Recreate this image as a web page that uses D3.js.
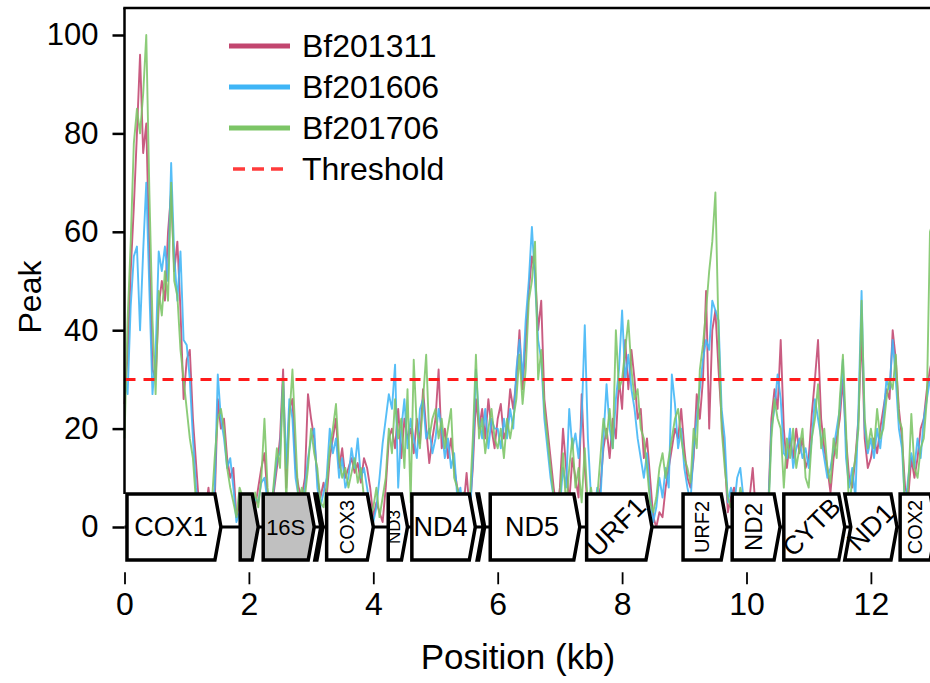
<!DOCTYPE html>
<html>
<head>
<meta charset="utf-8">
<script src="https://cdn.jsdelivr.net/npm/d3@7"></script>
<style>
  body { margin: 0; background: #fff; }
  svg { display: block; font-family: "Liberation Sans", Arial, Helvetica, sans-serif; }
</style>
</head>
<body>
<script>
const [width, height] = [930, 683];

// coverage peaks, one sample every 0.05 kb starting at 0 kb
const stepKb = 0.05;
const bf201311 = [
  25, 35, 52, 65, 80, 96, 76, 82, 55, 32, 30, 45, 50, 46, 60, 68, 52, 58, 44, 26,
  34, 36, 22, 13, 4, 6, 3, 8, 2, 5, 26, 20, 22, 14, 10, 12, 2, 5, 3, 6,
  3, 6, 4, 8, 12, 15, 6, 4, 7, 12, 18, 32, 8, 24, 26, 12, 8, 6, 10, 27,
  22, 18, 10, 6, 9, 6, 14, 18, 22, 12, 16, 10, 12, 14, 11, 13, 9, 14, 12, 8,
  2, 5, 3, 1, 8, 18, 20, 16, 24, 14, 22, 18, 20, 15, 22, 17, 28, 20, 13, 18,
  22, 32, 16, 20, 14, 18, 12, 8, 6, 4, 11, 3, 12, 26, 20, 24, 18, 26, 20, 16,
  22, 25, 18, 20, 28, 24, 30, 40, 28, 38, 48, 55, 52, 40, 46, 26, 20, 14, 8, 3,
  8, 20, 12, 5, 14, 10, 6, 27, 12, 3, 1, 6, 3, 8, 16, 20, 14, 22, 18, 30,
  24, 38, 28, 36, 30, 22, 24, 14, 18, 10, 2, 0, 3, 2, 8, 12, 16, 20, 18, 24,
  16, 10, 8, 14, 27, 22, 30, 48, 20, 40, 44, 32, 22, 14, 3, 6, 8, 4, 6, 3,
  4, 6, 12, 3, 2, 5, 3, 4, 22, 28, 24, 38, 20, 12, 18, 14, 20, 15, 18, 12,
  14, 23, 30, 38, 22, 16, 12, 7, 14, 18, 22, 30, 18, 10, 8, 14, 22, 40, 18, 12,
  14, 18, 15, 20, 24, 28, 26, 40, 34, 24, 18, 8, 6, 14, 10, 14, 20, 22, 28, 32, 35
];
const bf201606 = [
  30, 27, 45, 55, 57, 40, 56, 70, 48, 27, 35, 56, 52, 57, 50, 74, 55, 46, 56, 38,
  37, 30, 18, 8, 3, 5, 2, 6, 4, 8, 31, 22, 18, 12, 14, 8, 1, 3, 6, 2,
  4, 2, 6, 5, 9, 10, 5, 3, 8, 14, 15, 30, 12, 26, 22, 10, 6, 4, 8, 14,
  18, 20, 8, 4, 7, 10, 20, 15, 18, 10, 14, 8, 10, 16, 12, 18, 10, 12, 8, 4,
  1, 4, 10, 17, 22, 27, 24, 33, 8, 20, 26, 16, 22, 18, 14, 24, 26, 18, 20, 15,
  18, 24, 20, 14, 18, 12, 15, 6, 8, 2, 5, 1, 14, 32, 22, 18, 24, 16, 22, 20,
  20, 16, 22, 18, 24, 20, 32, 38, 30, 42, 50, 61, 50, 38, 34, 22, 16, 10, 6, 2,
  4, 12, 8, 24, 16, 19, 14, 22, 41, 18, 6, 2, 8, 5, 18, 29, 20, 16, 26, 32,
  44, 30, 35, 28, 24, 18, 14, 10, 15, 6, 1, 4, 10, 6, 12, 8, 31, 25, 16, 20,
  12, 8, 5, 16, 22, 28, 34, 38, 36, 46, 44, 42, 24, 18, 5, 8, 4, 10, 12, 6,
  3, 5, 2, 4, 6, 2, 5, 3, 20, 24, 31, 26, 15, 14, 20, 12, 16, 18, 14, 16,
  12, 18, 26, 22, 18, 14, 10, 12, 16, 20, 24, 34, 14, 8, 12, 6, 24, 48, 20, 15,
  18, 14, 20, 16, 22, 30, 28, 38, 30, 20, 16, 4, 10, 15, 12, 18, 14, 22, 26, 30, 32
];
const bf201706 = [
  18, 42, 58, 78, 85, 80, 88, 100, 68, 42, 27, 48, 43, 52, 46, 70, 50, 47, 36, 30,
  24, 18, 14, 5, 3, 2, 6, 3, 4, 14, 22, 24, 20, 12, 8, 5, 2, 8, 6, 4,
  5, 3, 7, 4, 10, 22, 8, 2, 9, 16, 12, 30, 5, 22, 32, 18, 4, 8, 6, 12,
  20, 15, 12, 5, 4, 8, 16, 20, 25, 14, 10, 12, 8, 11, 14, 9, 12, 6, 3, 2,
  4, 8, 2, 6, 10, 20, 15, 26, 18, 22, 12, 28, 5, 34, 20, 16, 26, 35, 18, 22,
  24, 18, 22, 16, 20, 24, 10, 8, 4, 7, 2, 5, 18, 35, 18, 22, 15, 20, 24, 18,
  16, 20, 14, 22, 18, 22, 26, 35, 25, 32, 46, 50, 58, 30, 36, 24, 18, 12, 6, 4,
  6, 15, 4, 12, 18, 8, 12, 5, 16, 4, 8, 3, 6, 14, 22, 18, 24, 16, 40, 28,
  30, 36, 42, 32, 26, 28, 20, 18, 12, 5, 3, 6, 12, 15, 10, 14, 18, 22, 24, 18,
  14, 12, 9, 20, 16, 32, 37, 44, 52, 58, 68, 40, 20, 12, 6, 4, 7, 3, 8, 5,
  5, 3, 6, 2, 4, 3, 6, 2, 18, 26, 22, 20, 8, 18, 14, 20, 12, 16, 20, 10,
  8, 18, 22, 29, 16, 20, 12, 9, 18, 14, 26, 35, 20, 3, 10, 14, 20, 46, 22, 16,
  20, 16, 24, 18, 20, 26, 30, 28, 35, 22, 20, 2, 8, 23, 12, 10, 16, 18, 26, 60, 62
];
const seriesNames = ['Bf201311', 'Bf201606', 'Bf201706'];
const seriesColors = ['#c2466f', '#3fb5f6', '#7cc566'];
const threshold = 30;

const yTicks = [0, 20, 40, 60, 80, 100];
const xTicks = [0, 2, 4, 6, 8, 10, 12];

// gene map (kb)
const geneNames = ['COX1', '', '16S', '', 'COX3', 'ND3', 'ND4', '', 'ND5', 'URF1', 'URF2', 'ND2', 'CYTB', 'ND1', 'COX2'];
const geneStart = [0.04, 1.86, 2.23, 3.06, 3.25, 4.24, 4.62, 5.67, 5.88, 7.43, 8.98, 9.77, 10.60, 11.58, 12.47];
const geneEnd   = [1.55, 2.15, 3.05, 3.19, 4.00, 4.55, 5.64, 5.79, 7.32, 8.48, 9.69, 10.54, 11.58, 12.42, 13.05];
const geneKind  = ['cds', 'rrna', 'rrna', 'trna', 'cds', 'cds', 'cds', 'trna', 'cds', 'cds', 'cds', 'cds', 'cds', 'notch', 'cds'];

// [rotation, font size] per gene label
const labelStyle = {
  COX1: [0, 27], '16S': [0, 22], COX3: [-90, 20], ND3: [-90, 17], ND4: [0, 27], ND5: [0, 27],
  URF1: [-45, 27], URF2: [-90, 20], ND2: [-90, 24], CYTB: [-45, 26], ND1: [-45, 27], COX2: [-90, 20]
};

const x = d3.scaleLinear().domain([0, 13]).range([124.5, 933.1]);
const y = d3.scaleLinear().domain([0, 100]).range([527, 35]);

const svg = d3.select('body').append('svg')
  .attr('width', width)
  .attr('height', height);

// traces
const line = d3.line()
  .x((d, i) => x(i * stepKb))
  .y(d => y(d));

const traces = svg.append('g').attr('class', 'traces');
[bf201311, bf201606, bf201706].forEach((vals, k) => {
  traces.append('path')
    .attr('d', line(vals))
    .attr('fill', 'none')
    .attr('stroke', seriesColors[k])
    .attr('stroke-width', 1.9)
    .attr('stroke-opacity', 0.88)
    .attr('stroke-linejoin', 'round');
});

// threshold
svg.append('line')
  .attr('x1', x(0)).attr('x2', width)
  .attr('y1', y(threshold)).attr('y2', y(threshold))
  .attr('stroke', '#ff1a1a')
  .attr('stroke-width', 3)
  .attr('stroke-dasharray', '11,8');

// gene track
const boxTop = y(6.7), boxBot = y(-6.7), boxMid = y(0), tip = 6;
const track = svg.append('g').attr('class', 'genes');
track.append('line')
  .attr('x1', x(0)).attr('x2', width)
  .attr('y1', boxMid).attr('y2', boxMid)
  .attr('stroke', '#000').attr('stroke-width', 3);

geneNames.forEach((name, i) => {
  const x0 = x(geneStart[i]), x1 = x(geneEnd[i]);
  const pts = [[x0, boxTop], [x1 - tip, boxTop], [x1, boxMid], [x1 - tip, boxBot], [x0, boxBot]];
  if (geneKind[i] === 'trna' || geneKind[i] === 'notch') pts.push([x0 + tip, boxMid]);
  track.append('polygon')
    .attr('points', pts.map(p => p.join(',')).join(' '))
    .attr('fill', geneKind[i] === 'rrna' ? '#c0c0c0' : '#fff')
    .attr('stroke', '#000')
    .attr('stroke-width', 3.5)
    .attr('stroke-linejoin', 'miter');
  if (name) {
    const [rot, fs] = labelStyle[name];
    const cx = (x0 + x1 - tip) / 2 + (geneKind[i] === 'notch' ? tip / 2 : 0);
    track.append('text')
      .attr('transform', `translate(${cx},${boxMid}) rotate(${rot})`)
      .attr('text-anchor', 'middle')
      .attr('dominant-baseline', 'central')
      .attr('font-size', fs)
      .text(name);
  }
});

// spines
svg.append('line')
  .attr('x1', x(0)).attr('x2', x(0))
  .attr('y1', 8).attr('y2', boxTop)
  .attr('stroke', '#000').attr('stroke-width', 2.5);
svg.append('line')
  .attr('x1', x(0) - 1.25).attr('x2', width)
  .attr('y1', 8).attr('y2', 8)
  .attr('stroke', '#000').attr('stroke-width', 2.5);

// y axis
const yAxis = svg.append('g')
  .attr('transform', `translate(${x(0)},0)`)
  .call(d3.axisLeft(y).tickValues(yTicks).tickSize(12).tickPadding(14));
yAxis.select('.domain').remove();
yAxis.selectAll('line').attr('stroke-width', 2.5);
yAxis.selectAll('text').attr('font-size', 31).attr('font-family', null).attr('fill', '#000');

// x axis (offset below the gene track)
const xAxis = svg.append('g')
  .attr('transform', `translate(0,${y(-9.2)})`)
  .call(d3.axisBottom(x).tickValues(xTicks).tickSize(12).tickPadding(8));
xAxis.select('.domain').remove();
xAxis.selectAll('line').attr('stroke-width', 1.8);
xAxis.selectAll('text').attr('font-size', 32).attr('font-family', null).attr('fill', '#000');

svg.append('text')
  .attr('x', 518).attr('y', 669)
  .attr('text-anchor', 'middle')
  .attr('font-size', 35)
  .text('Position (kb)');

svg.append('text')
  .attr('transform', `translate(41,297) rotate(-90)`)
  .attr('text-anchor', 'middle')
  .attr('font-size', 32)
  .text('Peak');

// legend
const legend = svg.append('g').attr('transform', 'translate(229,46)');
seriesNames.concat(['Threshold']).forEach((name, i) => {
  const row = legend.append('g').attr('transform', `translate(0,${i * 41})`);
  const isThr = i === 3;
  row.append('line')
    .attr('x1', isThr ? 4 : 0).attr('x2', 61)
    .attr('stroke', isThr ? '#ff3b3b' : seriesColors[i])
    .attr('stroke-width', isThr ? 3.5 : 5)
    .attr('stroke-dasharray', isThr ? '12,7' : null);
  row.append('text')
    .attr('x', 73).attr('y', 0)
    .attr('dominant-baseline', 'central')
    .attr('font-size', 32)
    .text(name);
});
</script>
</body>
</html>
